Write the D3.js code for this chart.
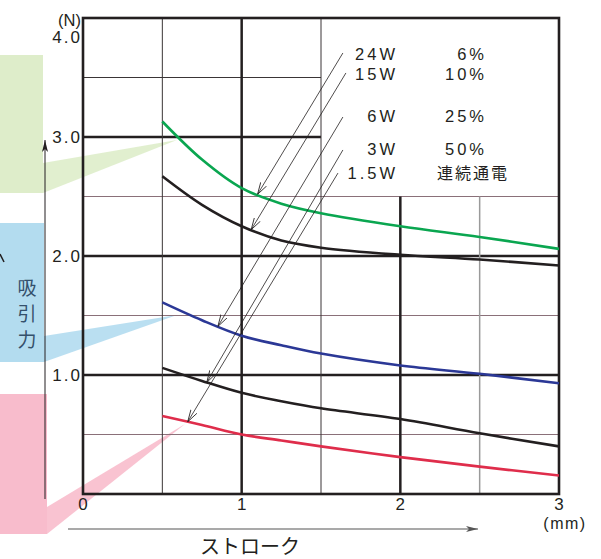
<html lang="ja">
<head>
<meta charset="UTF-8">
<title>吸引力 - ストローク</title>
<style>
  body { margin: 0; background: #fff; }
  svg { display: block; }
  text { font-family: "Liberation Sans", Arial, sans-serif; fill: #231f20; }
  .cjk { font-family: "Noto Sans CJK JP", sans-serif; }
</style>
</head>
<body>
<svg id="chart" width="601" height="559"></svg>
<script src="https://cdn.jsdelivr.net/npm/d3@7/dist/d3.min.js"></script>
<script>
// ストローク (mm) と各ワット数の吸引力 (N)
const strokeMM = [0.5, 0.75, 1, 1.25, 1.5, 2, 2.5, 3];
const force24W = [3.13, 2.81, 2.57, 2.44, 2.36, 2.25, 2.16, 2.06];
const force15W = [2.67, 2.43, 2.25, 2.13, 2.07, 2.01, 1.97, 1.92];
const force6W = [1.61, 1.46, 1.33, 1.25, 1.18, 1.08, 1.01, 0.93];
const force3W = [1.06, 0.95, 0.85, 0.78, 0.72, 0.63, 0.51, 0.40];
const force1_5W = [0.655, 0.58, 0.50, 0.45, 0.40, 0.31, 0.23, 0.155];

const wattLabels = ["24W", "15W", "6W", "3W", "1.5W"];
const dutyLabels = ["6%", "10%", "25%", "50%", "連続通電"];
// 引出線: 矢印の先のストローク位置, 線の始点 (mm, N)
const leaderTipX = [1.10, 1.06, 0.85, 0.78, 0.66];
const leaderStart = [[1.638, 3.706], [1.657, 3.538], [1.638, 3.168], [1.638, 2.891], [1.607, 2.697]];

const xTicks = [0, 1, 2, 3];
const yTicks = [1, 2, 3, 4];

const svg = d3.select('#chart');
const x = d3.scaleLinear().domain([0, 3]).range([83, 559]);
const y = d3.scaleLinear().domain([0, 4]).range([494, 18]);

const series = [
  { v: force24W, color: '#0aa650' },
  { v: force15W, color: '#231f20' },
  { v: force6W, color: '#2b3896' },
  { v: force3W, color: '#231f20' },
  { v: force1_5W, color: '#df2d4b' }
];

// 左側の色帯とくさび
const bands = [
  { rect: [0, 55, 43, 193], wedge: [[43, 163], [177, 140], [43, 193]], color: '#deedca' },
  { rect: [0, 223, 44, 362], wedge: [[44, 336], [177, 315], [44, 362]], color: '#b3dcef' },
  { rect: [0, 394, 47, 534], wedge: [[47, 507], [185, 424], [47, 534]], color: '#f8bccc' }
];
bands.forEach(b => {
  svg.append('rect').attr('x', b.rect[0]).attr('y', b.rect[1])
    .attr('width', b.rect[2] - b.rect[0]).attr('height', b.rect[3] - b.rect[1]).attr('fill', b.color);
  svg.append('path').attr('d', d3.line()(b.wedge) + 'Z').attr('fill', b.color).attr('opacity', 0.9);
});

// 矢印マーカー
const defs = svg.append('defs');
defs.append('marker').attr('id', 'solidHead').attr('viewBox', '0 0 12 6')
  .attr('refX', 12).attr('refY', 3).attr('markerWidth', 12).attr('markerHeight', 6)
  .attr('markerUnits', 'userSpaceOnUse').attr('orient', 'auto')
  .append('path').attr('d', 'M0,0 L12,3 L0,6 L3,3 Z').attr('fill', '#231f20');
defs.append('marker').attr('id', 'grayHead').attr('viewBox', '0 0 12 6')
  .attr('refX', 12).attr('refY', 3).attr('markerWidth', 14).attr('markerHeight', 6)
  .attr('markerUnits', 'userSpaceOnUse').attr('orient', 'auto')
  .append('path').attr('d', 'M0,0 L12,3 L0,6 L3,3 Z').attr('fill', '#555');
defs.append('marker').attr('id', 'openHead').attr('viewBox', '0 0 12 8')
  .attr('refX', 12).attr('refY', 4).attr('markerWidth', 12).attr('markerHeight', 8)
  .attr('markerUnits', 'userSpaceOnUse').attr('orient', 'auto')
  .append('path').attr('d', 'M0,0.5 L12,4 L0,7.5').attr('fill', 'none').attr('stroke', '#231f20').attr('stroke-width', 0.8);

// 縦の矢印（吸引力）
svg.append('line').attr('x1', 45).attr('y1', 499).attr('x2', 45).attr('y2', 140)
  .attr('stroke', '#231f20').attr('stroke-width', 1).attr('marker-end', 'url(#solidHead)');
svg.append('path').attr('d', 'M0,254 L4,262').attr('stroke', '#231f20').attr('stroke-width', 1.5);

['吸', '引', '力'].forEach((c, i) => {
  svg.append('text').attr('class', 'cjk').attr('x', 27).attr('y', 295 + i * 26)
    .attr('text-anchor', 'middle').attr('font-size', 19).style('fill', '#34506b').text(c);
});

// グリッド
const thin = '#3a3536', mauve = '#8a7079', gray = '#9a9a9a';
const hLines = [
  { v: 3.5, a: 0, b: 1.5, c: thin, w: 1 },
  { v: 3.0, a: 0, b: 1.5, c: '#231f20', w: 2.5 },
  { v: 2.5, a: 0, b: 3, c: mauve, w: 1.2 },
  { v: 2.0, a: 0, b: 3, c: '#231f20', w: 2.5 },
  { v: 1.5, a: 0, b: 3, c: mauve, w: 1.2 },
  { v: 1.0, a: 0, b: 3, c: '#231f20', w: 2.5 },
  { v: 0.5, a: 0, b: 3, c: mauve, w: 1.2 }
];
const vLines = [
  { v: 0.5, a: 0, b: 4, c: thin, w: 1 },
  { v: 1.0, a: 0, b: 4, c: '#231f20', w: 2.5 },
  { v: 1.5, a: 0, b: 4, c: thin, w: 1 },
  { v: 2.0, a: 0, b: 2.5, c: '#231f20', w: 2.5 },
  { v: 2.5, a: 0, b: 2.5, c: gray, w: 1.5 }
];
hLines.forEach(l => svg.append('line').attr('x1', x(l.a)).attr('x2', x(l.b))
  .attr('y1', y(l.v)).attr('y2', y(l.v)).attr('stroke', l.c).attr('stroke-width', l.w));
vLines.forEach(l => svg.append('line').attr('y1', y(l.a)).attr('y2', y(l.b))
  .attr('x1', x(l.v)).attr('x2', x(l.v)).attr('stroke', l.c).attr('stroke-width', l.w));
svg.append('rect').attr('x', x(0)).attr('y', y(4)).attr('width', x(3) - x(0)).attr('height', y(0) - y(4))
  .attr('fill', 'none').attr('stroke', '#231f20').attr('stroke-width', 2.6);

// 曲線
const line = d3.line().x(d => x(d[0])).y(d => y(d[1])).curve(d3.curveCatmullRom.alpha(0.5));
series.forEach(s => {
  svg.append('path').attr('d', line(strokeMM.map((m, i) => [m, s.v[i]])))
    .attr('fill', 'none').attr('stroke', s.color).attr('stroke-width', 2.6);
});

// 引出線
const interp = (vals, m) => {
  const i = d3.bisectRight(strokeMM, m) - 1;
  const t = (m - strokeMM[i]) / (strokeMM[i + 1] - strokeMM[i]);
  return vals[i] + t * (vals[i + 1] - vals[i]);
};
series.forEach((s, i) => {
  const tx = leaderTipX[i];
  svg.append('line').attr('x1', x(leaderStart[i][0])).attr('y1', y(leaderStart[i][1]))
    .attr('x2', x(tx)).attr('y2', y(interp(s.v, tx)))
    .attr('stroke', '#231f20').attr('stroke-width', 0.8).attr('marker-end', 'url(#openHead)');
});

// 凡例
const rowY = [60, 80, 122, 155, 179];
wattLabels.forEach((t, i) => {
  svg.append('text').attr('x', 398).attr('y', rowY[i]).attr('text-anchor', 'end')
    .attr('font-size', 16.5).attr('letter-spacing', 3).text(t);
  const d = svg.append('text').attr('y', rowY[i]).attr('font-size', 16.5).text(dutyLabels[i]);
  if (i === 4) d.attr('class', 'cjk').attr('x', 437).attr('font-size', 16).attr('letter-spacing', 2);
  else d.attr('x', 487).attr('text-anchor', 'end').attr('letter-spacing', 3);
});

// 目盛ラベル
yTicks.forEach(t => {
  svg.append('text').attr('x', 82).attr('y', t === 4 ? 43 : y(t) + 6).attr('text-anchor', 'end')
    .attr('font-size', 17).attr('letter-spacing', 2).text(d3.format('.1f')(t));
});
svg.append('text').attr('x', 81).attr('y', 26).attr('text-anchor', 'end').attr('font-size', 16.5).text('(N)');
xTicks.forEach(t => {
  svg.append('text').attr('x', x(t)).attr('y', 510).attr('text-anchor', 'middle')
    .attr('font-size', 17).text(t);
});
svg.append('text').attr('x', 565).attr('y', 529).attr('text-anchor', 'middle')
  .attr('font-size', 16).attr('letter-spacing', 1.5).text('(mm)');

// 横の矢印（ストローク）
svg.append('line').attr('x1', 68).attr('y1', 529).attr('x2', 478).attr('y2', 529)
  .attr('stroke', '#555').attr('stroke-width', 1.2).attr('marker-end', 'url(#grayHead)');
svg.append('text').attr('class', 'cjk').attr('x', 250).attr('y', 554).attr('text-anchor', 'middle')
  .attr('font-size', 20).text('ストローク');
</script>
</body>
</html>
